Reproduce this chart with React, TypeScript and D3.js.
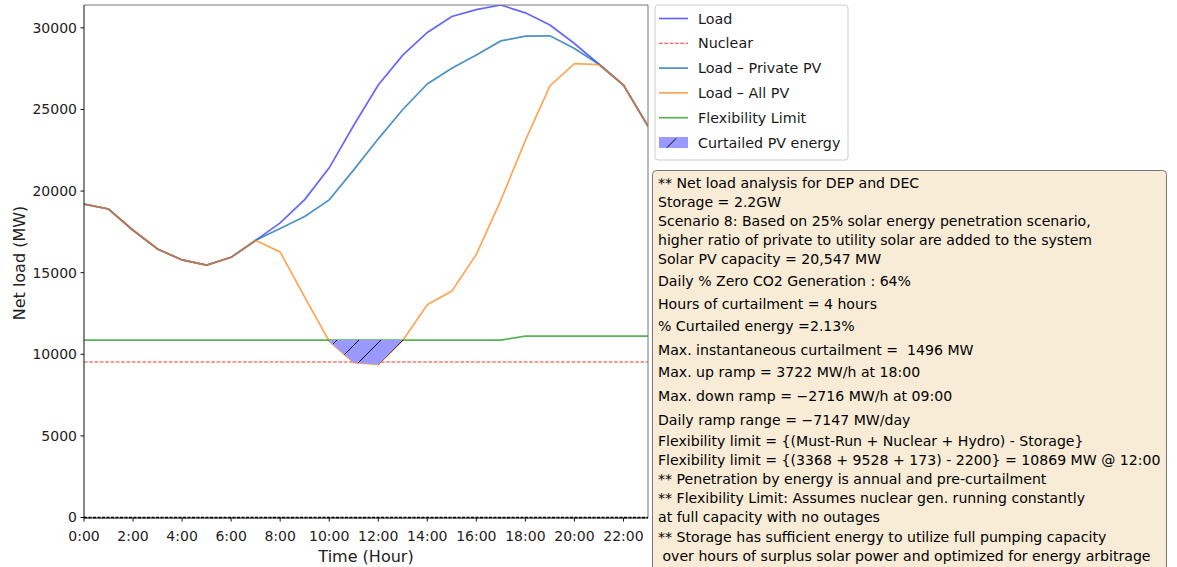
import React from "react";
import * as d3 from "d3";

const hours = [0, 1, 2, 3, 4, 5, 6, 7, 8, 9, 10, 11, 12, 13, 14, 15, 16, 17, 18, 19, 20, 21, 22, 23];
const load = [19200, 18900, 17600, 16450, 15780, 15460, 15940, 16980, 18050, 19480, 21420, 24030, 26500, 28330, 29720, 30700, 31120, 31400, 30920, 30170, 29040, 27770, 26490, 23970];
const loadPrivatePV = [19200, 18900, 17600, 16450, 15780, 15460, 15940, 16980, 17700, 18440, 19460, 21300, 23200, 25000, 26560, 27520, 28340, 29200, 29490, 29510, 28740, 27770, 26490, 23970];
const loadAllPV = [19200, 18900, 17600, 16450, 15780, 15460, 15940, 16980, 16270, 13500, 10800, 9480, 9380, 10850, 13040, 13870, 16120, 19440, 23110, 26440, 27810, 27750, 26490, 23970];
const flexLimit = [10869, 10869, 10869, 10869, 10869, 10869, 10869, 10869, 10869, 10869, 10869, 10869, 10869, 10869, 10869, 10869, 10869, 10869, 11110, 11110, 11110, 11110, 11110, 11110];
const nuclear = 9528;
const yTicks = [0, 5000, 10000, 15000, 20000, 25000, 30000];
const xTicks = [0, 2, 4, 6, 8, 10, 12, 14, 16, 18, 20, 22];
const legendLabels = ["Load", "Nuclear", "Load – Private PV", "Load – All PV", "Flexibility Limit", "Curtailed PV energy"];
const infoLines = [
  "** Net load analysis for DEP and DEC",
  "Storage = 2.2GW",
  "Scenario 8: Based on 25% solar energy penetration scenario,",
  "higher ratio of private to utility solar are added to the system",
  "Solar PV capacity = 20,547 MW",
  "Daily % Zero CO2 Generation : 64%",
  "Hours of curtailment = 4 hours",
  "% Curtailed energy =2.13%",
  "Max. instantaneous curtailment =  1496 MW",
  "Max. up ramp = 3722 MW/h at 18:00",
  "Max. down ramp = \u22122716 MW/h at 09:00",
  "Daily ramp range = \u22127147 MW/day",
  "Flexibility limit = {(Must-Run + Nuclear + Hydro) - Storage}",
  "Flexibility limit = {(3368 + 9528 + 173) - 2200} = 10869 MW @ 12:00",
  "** Penetration by energy is annual and pre-curtailment",
  "** Flexibility Limit: Assumes nuclear gen. running constantly",
  "at full capacity with no outages",
  "** Storage has sufficient energy to utilize full pumping capacity",
  " over hours of surplus solar power and optimized for energy arbitrage",
];
// layout: vertical centre of each info line
const infoLineY = [183, 202, 221, 240, 259, 281, 304, 326, 350, 372, 396, 420, 441, 460, 479, 498, 517, 537, 556];

const FONT = "'DejaVu Sans', sans-serif";
const C_LOAD = "rgb(102,102,255)";
const C_PRIV = "rgba(31,119,180,0.8)";
const C_ALL = "rgba(255,127,14,0.7)";
const C_FLEX = "rgba(44,160,44,0.8)";
const C_NUC = "rgba(255,0,0,0.8)";
const C_FILL = "rgb(153,153,255)";

export default function App() {
  const W = 1177, H = 567;
  const x = d3.scaleLinear().domain([0, 23]).range([84, 648]);
  const y = d3.scaleLinear().domain([0, 31400]).range([517.5, 5]);
  const line = (vals: number[]) =>
    d3.line<number>().x((h) => x(h)).y((h) => y(vals[h]))(hours) || "";
  const area = d3
    .area<number>()
    .defined((h) => loadAllPV[h] <= flexLimit[h])
    .x((h) => x(h))
    .y0((h) => y(flexLimit[h]))
    .y1((h) => y(loadAllPV[h]))(hours) || "";

  const legX = 655, legY = 5, legW = 193, legH = 155;
  const rowH = 24.8;
  return (
    <svg width={W} height={H} style={{ position: "absolute", left: 0, top: 0, background: "#fff" }} fontFamily={FONT}>
      <defs>
        <pattern id="hatch" patternUnits="userSpaceOnUse" width={22} height={22} patternTransform="translate(17,0)">
          <path d="M0,22 L22,0 M-5,5 L5,-5 M17,27 L27,17" stroke="#000" strokeWidth={1} />
        </pattern>
        <clipPath id="plotClip">
          <rect x={84} y={5} width={564} height={513} />
        </clipPath>
      </defs>

      <g clipPath="url(#plotClip)">
        <path d={line(load)} fill="none" stroke={C_LOAD} strokeWidth={1.7} />
        <line x1={x(0)} x2={x(23)} y1={y(nuclear)} y2={y(nuclear)} stroke={C_NUC} strokeWidth={1.1} strokeDasharray="3.7,1.6" />
        <path d={line(loadPrivatePV)} fill="none" stroke={C_PRIV} strokeWidth={1.7} />
        <path d={line(loadAllPV)} fill="none" stroke={C_ALL} strokeWidth={1.7} />
        <path d={line(flexLimit)} fill="none" stroke={C_FLEX} strokeWidth={1.7} />
        <path d={area} fill={C_FILL} />
        <path d={area} fill="url(#hatch)" />
      </g>

      {/* spines */}
      <line x1={84} x2={648} y1={5} y2={5} stroke="#777" strokeWidth={1} />
      <line x1={648} x2={648} y1={5} y2={518} stroke="#777" strokeWidth={1} />
      <line x1={84} x2={84} y1={5} y2={518} stroke="#111" strokeWidth={1} />
      <line x1={84} x2={648} y1={518} y2={518} stroke="#111" strokeWidth={1} />
      <line x1={84} x2={648} y1={y(0)} y2={y(0)} stroke="#000" strokeWidth={1.3} strokeDasharray="3,1.5" />

      {yTicks.map((t) => (
        <g key={"y" + t}>
          <line x1={80.5} x2={84} y1={y(t)} y2={y(t)} stroke="#111" />
          <text x={77} y={y(t)} dy="0.35em" textAnchor="end" fontSize={14} fill="#222">{t}</text>
        </g>
      ))}
      {xTicks.map((t) => (
        <g key={"x" + t}>
          <line x1={x(t)} x2={x(t)} y1={518} y2={521.5} stroke="#111" />
          <text x={x(t)} y={536} dy="0.35em" textAnchor="middle" fontSize={14} fill="#222">{`${t}:00`}</text>
        </g>
      ))}
      <text x={366} y={556} dy="0.35em" textAnchor="middle" fontSize={16} fill="#222">Time (Hour)</text>
      <text transform={`translate(19,263) rotate(-90)`} textAnchor="middle" dy="0.35em" fontSize={16} fill="#222">Net load (MW)</text>

      {/* legend */}
      <rect x={legX} y={legY} width={legW} height={legH} rx={3} fill="rgba(255,255,255,0.8)" stroke="#ccc" />
      {legendLabels.map((lab, i) => {
        const cy = 18.5 + i * rowH;
        let handle;
        if (i === 0) handle = <line x1={659} x2={688} y1={cy} y2={cy} stroke={C_LOAD} strokeWidth={1.7} />;
        else if (i === 1) handle = <line x1={659} x2={688} y1={cy} y2={cy} stroke={C_NUC} strokeWidth={1.1} strokeDasharray="3.7,1.6" />;
        else if (i === 2) handle = <line x1={659} x2={688} y1={cy} y2={cy} stroke={C_PRIV} strokeWidth={1.7} />;
        else if (i === 3) handle = <line x1={659} x2={688} y1={cy} y2={cy} stroke={C_ALL} strokeWidth={1.7} />;
        else if (i === 4) handle = <line x1={659} x2={688} y1={cy} y2={cy} stroke={C_FLEX} strokeWidth={1.7} />;
        else
          handle = (
            <g>
              <rect x={659} y={cy - 5.5} width={29} height={11} fill={C_FILL} />
              <line x1={667} x2={676} y1={cy + 5} y2={cy - 4} stroke="#000" strokeWidth={1} />
            </g>
          );
        return (
          <g key={lab}>
            {handle}
            <text x={698} y={cy} dy="0.35em" fontSize={14.3} fill="#1a1a1a">{lab}</text>
          </g>
        );
      })}

      {/* info box */}
      <rect x={652.5} y={170.5} width={514} height={420} rx={4} fill="rgb(249,236,215)" stroke="#777" strokeWidth={1} />
      {infoLines.map((t, i) => (
        <text key={i} x={658} y={infoLineY[i]} dy="0.35em" fontSize={14.1} fill="#000" style={{ whiteSpace: "pre" }}>{t}</text>
      ))}
    </svg>
  );
}
